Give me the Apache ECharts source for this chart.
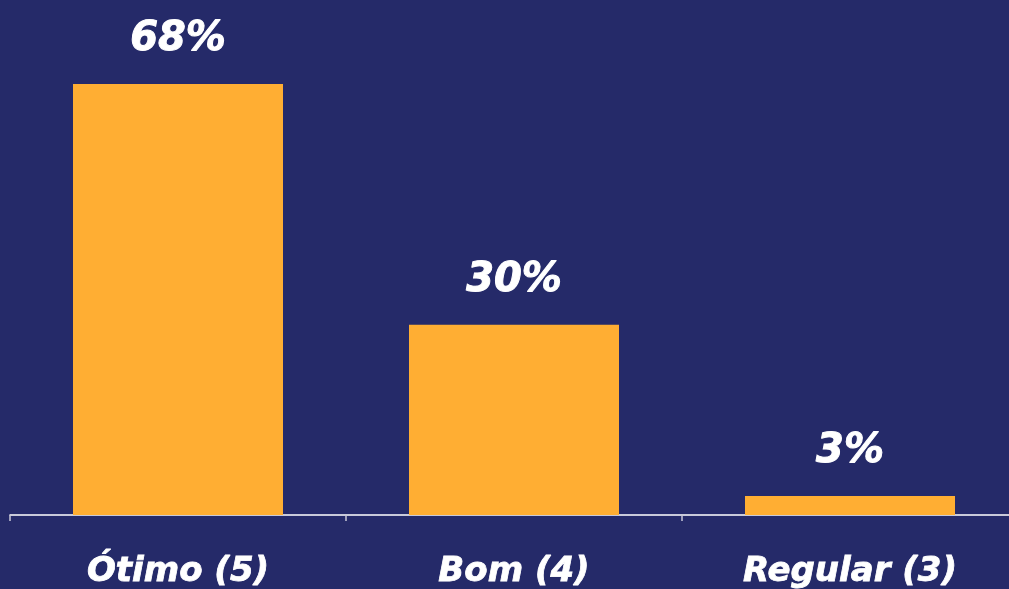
<!DOCTYPE html>
<html>
<head>
<meta charset="utf-8">
<style>
  html, body { margin: 0; padding: 0; background: #252a69; }
  #chart { width: 1009px; height: 589px; }
</style>
<script src="https://cdn.jsdelivr.net/npm/echarts@6/dist/echarts.min.js"></script>
</head>
<body>
<div id="chart"></div>
<script>
// Satisfaction ratings and share of answers (%)
const categories = ['Ótimo (5)', 'Bom (4)', 'Regular (3)'];
const shares = [68, 30, 3];

const FONT = '"DejaVu Sans", sans-serif';
const chart = echarts.init(document.getElementById('chart'));

chart.setOption({
  backgroundColor: '#252a69',
  animation: false,
  // plot area runs slightly past the right edge so each category is 336px wide
  grid: { left: 10, width: 1008, top: 0, bottom: 74, outerBoundsMode: 'none' },
  xAxis: {
    type: 'category',
    data: categories,
    axisLine: { lineStyle: { color: '#ffffff', width: 1.5 } },
    axisTick: { show: true, length: 6, lineStyle: { color: '#c8c8d8', width: 1.5 } },
    axisLabel: {
      color: '#ffffff',
      fontFamily: FONT,
      fontSize: 34,
      fontWeight: 'bold',
      fontStyle: 'italic',
      textBorderColor: '#ffffff',
      textBorderWidth: 0.8,
      margin: 40
    }
  },
  yAxis: {
    type: 'value',
    min: 0,
    max: 81.25,
    show: false,
    splitLine: { show: false }
  },
  series: [{
    type: 'bar',
    data: shares,
    barWidth: '62.5%',
    itemStyle: { color: '#ffae33' },
    label: {
      show: true,
      position: 'top',
      distance: 24,
      formatter: p => p.value + '%',
      color: '#ffffff',
      fontFamily: FONT,
      fontSize: 40,
      fontWeight: 'bold',
      fontStyle: 'italic',
      textBorderColor: '#ffffff',
      textBorderWidth: 1
    }
  }]
});
</script>
</body>
</html>
